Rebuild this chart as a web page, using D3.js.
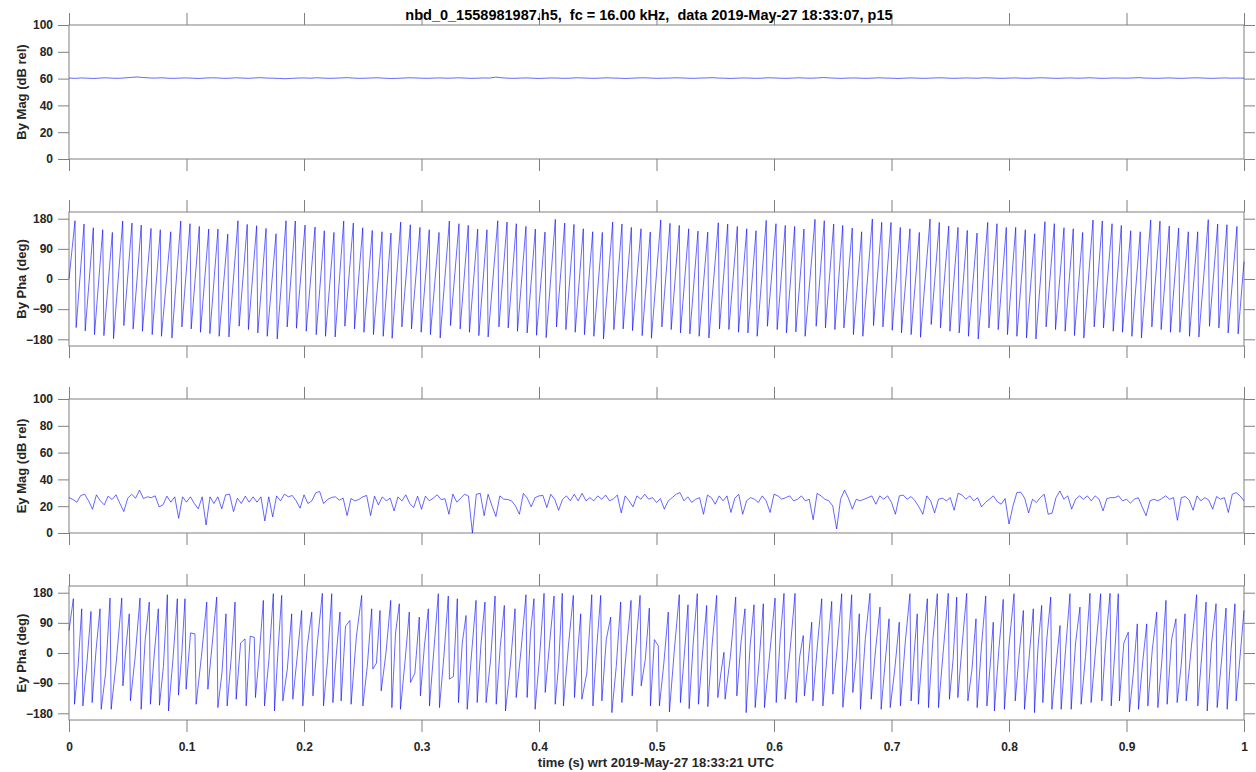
<!DOCTYPE html>
<html>
<head>
<meta charset="utf-8">
<script src="https://cdn.jsdelivr.net/npm/d3@7"></script>
<style>
  body { margin: 0; background: #fff; }
  svg { display: block; }
  .tick line { stroke: #808080; }
  .tick text { font: bold 12px "Liberation Sans", Arial, sans-serif; fill: #262626; }
  .lbl { font: bold 13px "Liberation Sans", Arial, sans-serif; fill: #262626; white-space: pre; }
  .ttl { font: bold 14.5px "Liberation Sans", Arial, sans-serif; fill: #000; white-space: pre; }
</style>
</head>
<body>
<div id="chart"></div>
<script>
// ---- data ----
var titleText = "nbd_0_1558981987.h5,  fc = 16.00 kHz,  data 2019-May-27 18:33:07, p15";
var xLabelText = "time (s) wrt 2019-May-27 18:33:21 UTC";
var panelLabels = ["By Mag (dB rel)", "By Pha (deg)", "Ey Mag (dB rel)", "Ey Pha (deg)"];

var timeTicks = [0, 0.1, 0.2, 0.3, 0.4, 0.5, 0.6, 0.7, 0.8, 0.9, 1];
var magTicks = [0, 20, 40, 60, 80, 100];
var phaTicks = [-180, -90, 0, 90, 180];
var magDomain = [0, 100];
var phaDomain = [-200, 200];

var sampleDt = 0.001; // 1 kHz sampling: a phase wrap takes one sample

// By Mag, evenly spaced over 0..1 s
var byMag = [
  60.4,60.2,60.5,60.3,60.1,60.4,60.6,60.3,60.2,60.5, 60.9,61.2,60.8,60.5,60.4,60.6,60.3,60.2,60.4,60.5,
  60.3,60.1,60.4,60.6,60.5,60.2,60.3,60.6,60.4,60.2, 60.5,60.7,60.4,60.3,60.1,59.9,60.2,60.4,60.5,60.3,
  60.6,60.4,60.2,60.3,60.5,60.7,60.4,60.2,60.3,60.5, 60.6,60.3,60.1,60.2,60.4,60.6,60.5,60.3,60.2,60.4,
  60.5,60.3,60.4,60.6,60.4,60.2,60.3,60.5,60.4,61.1, 60.6,60.3,60.2,60.4,60.5,60.3,60.1,60.3,60.5,60.4,
  60.2,60.3,60.6,60.5,60.3,60.2,60.4,60.6,60.4,60.3, 60.1,60.3,60.5,60.6,60.4,60.2,60.3,60.4,60.6,60.5,
  60.3,60.2,60.4,60.5,60.7,60.4,60.3,60.1,60.3,60.5, 60.4,60.2,60.3,60.6,60.5,60.3,60.2,60.4,60.6,60.4,
  60.3,60.5,60.8,60.5,60.3,60.2,60.4,60.5,60.3,60.2, 60.4,60.6,60.4,60.3,60.1,60.3,60.5,60.4,60.2,60.3,
  60.5,60.6,60.4,60.2,60.3,60.5,60.4,60.3,60.6,60.5, 60.3,60.2,60.4,60.5,60.3,60.2,60.4,60.6,60.5,60.3,
  60.2,60.4,60.5,60.3,60.4,60.6,60.4,60.2,60.3,60.5, 60.4,60.3,60.5,60.7,60.4,60.3,60.2,60.4,60.5,60.3,
  60.2,60.4,60.6,60.5,60.3,60.2,60.4,60.5,60.3,60.4, 60.3
];

// By Pha: sawtooth, one peak and the wrapped trough after it per cycle
var byPhaStart = 0, byPhaEnd = 52;
var byPhaPeakT = [
  0.0051,0.0128,0.0207,0.0287,0.0369,0.0457,0.0536,0.0615,0.0698,0.0777,0.0866,0.0951,0.1030,0.1109,0.1189,0.1268,0.1351,
  0.1438,0.1517,0.1597,0.1677,0.1762,0.1847,0.1926,0.2009,0.2094,0.2173,0.2255,0.2338,0.2420,0.2500,0.2581,0.2664,0.2740,
  0.2823,0.2905,0.2987,0.3066,0.3149,0.3237,
  0.3319,0.3398,0.3478,0.3557,0.3649,0.3728,0.3807,0.3889,0.3969,0.4051,0.4139,0.4219,0.4298,0.4377,0.4457,0.4539,
  0.4627,0.4706,0.4786,0.4868,0.4947,0.5036,0.5115,0.5194,0.5274,0.5353,0.5436,0.5526,0.5606,0.5688,0.5768,0.5847,
  0.5934,0.6017,0.6096,0.6176,0.6255,0.6349,0.6428,0.6508,0.6585,
  0.6666,0.6746,0.6837,0.6917,0.6996,0.7075,0.7157,0.7237,0.7328,0.7407,0.7487,0.7566,0.7645,0.7728,0.7819,0.7898,
  0.7977,0.8057,0.8139,0.8219,0.8306,0.8386,0.8468,0.8547,0.8627,0.8715,0.8794,0.8877,0.8956,0.9036,0.9117,0.9206,
  0.9285,0.9364,0.9444,0.9526,0.9606,0.9696,0.9776,0.9855,0.9940
];
var byPhaPeak = [
  174,164,153,147,139, 173,167,161,151,147,141, 173,165,157,149,149,134, 174,163,159,151,135,
  174,173,161,155,144,139, 173,167,153,145,141,137, 170,162,154,147,139, 173,
  165,160,149,147, 174,170,165,157,149,140, 178,167,163,150,141,139, 170,164,154,150,140,
  176,166,160,150,143,140, 168,164,157,150,144, 175,165,160,157,149, 178,174,164,160,
  152,141, 179,169,169,154,150,139, 179,169,158,154,145,137, 169,165,154,154,147,135,
  171,165,153,150,139, 176,173,165,160,144,141, 176,173,158,152,141,141, 177,164,162,157
];
var byPhaTrough = [
  -145,-155,-166,-169,-178, -139,-149,-156,-166,-171,-176, -143,-149,-159,-163,-171,-173, -141,-151,-161,-171,-179,
  -143,-147,-156,-166,-171,-173, -141,-149,-159,-166,-171,-177, -143,-149,-159,-166,-176, -139,
  -149,-159,-169,-173, -143,-146,-156,-161,-168,-175, -143,-151,-159,-166,-171,-179, -151,-149,-154,-169,-177,
  -143,-151,-161,-164,-171,-176, -149,-151,-159,-161,-171, -141,-151,-161,-158,-171, -141,-146,-151,-146,
  -166,-171, -139,-143,-153,-161,-166,-174, -136,-146,-156,-161,-171,-179, -146,-151,-166,-171,-176,-179,
  -143,-151,-156,-169,-176, -143,-146,-156,-159,-171,-176, -143,-151,-159,-159,-171,-173, -141,-146,-161,-164
];

// Ey Mag, evenly spaced over 0..1 s
var eyMag = [
  26.4,25,23,28,28.9,24,17.7,28.5,24,21, 27.5,25,28.5,22,16,26,28.9,26,32,25.7,
  27,26.4,27.7,19.5,21,27.5,23,27,11,27, 23,27,22,18,27,6,27,22,27,18,
  28.5,28.9,16,26,22,27.5,23,27,23,27, 9,27,12,27.7,24,29,27,28,24,18.5,
  28.5,22,24,30,31,22,25,26.5,27,24.5, 26,13,25.7,24,25,27,28,13,27.5,21,
  27,24,26,16.5,27,24,28.5,22,19,27.5, 17.7,27.5,24,26,28.5,25,25.5,14,29,23,
  26,28.9,27.5,0,28.9,29.6,12.9,28.9,20.2,12.3, 27.7,25.2,25,24,20.2,14,29.6,26,19.5,26.4,
  27.7,28,19,28.9,25.2,17,25,27.7,24,28.9, 24,29.6,24,26.4,24,27.7,25.2,28.3,24,25.5,
  28.3,15,27.7,24,19.5,27.7,25.2,28.9,25.2,26.4, 22.8,25.7,17.8,24,26.4,28.9,30.1,24,27,22.8,
  25.2,26.4,14,28.3,26.4,21.5,27.7,24,27.7,15.3, 26,28.9,14,24,26.4,25.2,22.8,27.7,24,15.3,
  28.9,27.7,25.2,26.4,27.7,24,25.2,27.7,24,25.2, 9.9,29.6,27.7,25.2,24,20.2,3,25.2,32,26,
  17.8,25.2,24,25.2,26.4,27.7,21.5,27.7,25.2,27.7, 22.8,14,27.7,28.3,25.2,27.2,24,19.5,14,27.7,
  24,15,25.2,26,24,26.4,17,29.6,28.3,25.2, 27.7,24,26.4,19.5,22.8,25.2,27.7,23.4,21.5,25.7,
  6.7,20,30.1,30.5,26,15,25.2,22.8,26.4,28.9, 14,14.8,26.4,31.4,25.2,27.7,17.8,25.2,27.7,25.2,
  27.7,24,27.7,25.2,16.5,25.7,26.4,26.4,27.7,24, 25.2,22.3,25.2,26.4,19.5,12.9,24,25.2,24,25.7,
  27.7,25.2,26.4,9.5,26.4,27.2,24.6,17,27.7,24, 26.4,24.6,17.8,27.2,25.2,26.4,15.3,28.9,30.1,27.7,
  24
];

// Ey Pha: per cycle a peak, the trough after it and one value midway up the next rise
var eyPhaStart = 67, eyPhaEnd = 127;
var eyPhaPeakT = [
  0.0037,0.0108,0.0187,0.0264,0.0349,0.0449,0.0513,0.0604,0.0683,0.0760,0.0837,0.0922,0.0987,0.1072,0.1172,0.1257,
  0.1336,0.1413,0.1498,0.1577,0.1654,0.1739,0.1810,0.1895,0.1980,0.2066,0.2156,0.2236,0.2306,0.2391,0.2491,0.2576,
  0.2647,0.2738,0.2811,0.2896,0.2981,0.3058,0.3143,0.3228,0.3305,
  0.3379,0.3464,0.3540,0.3626,0.3705,0.3796,0.3889,0.3957,0.4043,0.4128,0.4198,0.4292,0.4355,0.4449,0.4525,0.4610,
  0.4695,0.4783,0.4860,0.4939,0.5015,0.5100,0.5194,0.5268,0.5347,0.5427,0.5512,0.5574,0.5674,0.5753,0.5830,0.5909,
  0.6009,0.6085,0.6179,0.6249,0.6321,0.6406,0.6491,0.6576,
  0.6661,0.6726,0.6817,0.6902,0.6979,0.7066,0.7157,0.7219,0.7305,0.7390,0.7483,0.7555,0.7640,0.7719,0.7802,0.7866,
  0.7951,0.8043,0.8122,0.8207,0.8278,0.8355,0.8434,0.8519,0.8604,0.8689,0.8780,0.8860,0.8930,0.9015,0.9092,0.9172,
  0.9257,0.9336,0.9421,0.9498,0.9597,0.9677,0.9762,0.9847,0.9923
];
var eyPhaPeak = [
  162,132,124,132,164,164,117,164,152,132,174,162,162,57,152,167,117,152,42,47,157,177,172,117,127,122,178,177,122,97,
  172,132,127,157,147,122,107,132,177,170,162,
  112,157,152,170,142,132,174,162,178,170,178,172,117,174,172,107,152,157,172,134,22,122,174,144,177,142,172,2,167,132,
  144,147,164,178,178,52,92,162,154,177,
  174,117,178,137,102,92,177,117,162,177,178,167,178,102,170,92,160,177,127,132,142,167,82,177,137,178,177,178,177,62,
  87,87,122,157,102,117,174,152,147,134,147
];
var eyPhaTrough = [
  -153,-158,-148,-168,-168,-98,-143,-168,-153,-156,-173,-126,-108,-153,-108,-163,-158,-138,-158,-133,-158,-173,-143,-138,
  -158,-128,-158,-148,-143,-153,-158,-48,-113,-163,-168,-88,-128,-158,-163,-78,-148,
  -168,-148,-148,-153,-173,-133,-133,-168,-118,-153,-158,-133,-138,-158,-143,-178,-148,-128,-98,-158,-158,-176,-148,-166,
  -153,-160,-133,-138,-128,-178,-163,-163,-148,-138,-148,-128,-143,-158,-123,-162,
  -118,-168,-138,-168,-163,-158,-143,-153,-163,-163,-138,-133,-143,-163,-158,-173,-168,-143,-168,-178,-148,-168,-168,-168,
  -153,-148,-143,-158,-143,-176,-168,-158,-163,-153,-148,-143,-158,-173,-163,-168,-143
];
var eyPhaMid = [
  -40,-30,10,-60,-20,20,-10,40,0,-40,-20,-5,60,-10,30,-60,-20,30,50,0,-20,10,-50,-10,20,40,-20,0,80,50,-40,-30,0,60,-30,
  -60,20,10,-10,-70,30,
  0,30,-20,20,-40,10,60,-10,30,-30,20,0,-60,20,40,-40,10,30,-20,40,-30,10,-10,30,0,30,-60,-10,30,20,-20,0,40,10,-10,-30,
  20,0,20,-20,
  -20,40,10,-30,-50,30,0,20,40,10,-20,30,-50,20,-40,10,30,0,-20,20,40,-40,10,30,-10,20,40,0,30,-60,-30,10,-20,40,-40,
  20,0,30,-20,10,-10
];

// ---- build point lists ----
function evenly(vals) {
  return vals.map(function(v, i) { return {t: i / (vals.length - 1), v: v}; });
}
function sawtooth(start, peakT, peak, trough, mid, end) {
  var pts = [{t: 0, v: start}];
  peakT.forEach(function(t, i) {
    if (mid && i > 0) pts.push({t: (peakT[i-1] + sampleDt + t) / 2, v: mid[i-1]});
    pts.push({t: t, v: peak[i]});
    pts.push({t: t + sampleDt, v: trough[i]});
  });
  var last = peakT[peakT.length-1] + sampleDt;
  if (mid) pts.push({t: (last + 1) / 2, v: mid[mid.length-1]});
  pts.push({t: 1, v: end});
  return pts;
}

var panels = [
  {label: panelLabels[0], domain: magDomain, ticks: magTicks, pts: evenly(byMag)},
  {label: panelLabels[1], domain: phaDomain, ticks: phaTicks,
   pts: sawtooth(byPhaStart, byPhaPeakT, byPhaPeak, byPhaTrough, null, byPhaEnd)},
  {label: panelLabels[2], domain: magDomain, ticks: magTicks, pts: evenly(eyMag)},
  {label: panelLabels[3], domain: phaDomain, ticks: phaTicks,
   pts: sawtooth(eyPhaStart, eyPhaPeakT, eyPhaPeak, eyPhaTrough, eyPhaMid, eyPhaEnd)}
];

// ---- layout ----
var width = 1256, height = 772;
var left = 69, right = 1244;
var panelTop = [25, 212, 399, 586], panelH = 134;

var svg = d3.select("#chart").append("svg")
    .attr("width", width)
    .attr("height", height);

var x = d3.scaleLinear().domain([0, 1]).range([left, right]);

panels.forEach(function(p, i) {
  var top = panelTop[i], bottom = top + panelH;
  var y = d3.scaleLinear().domain(p.domain).range([bottom, top]);
  var g = svg.append("g");

  g.append("rect")
      .attr("x", left).attr("y", top)
      .attr("width", right - left).attr("height", panelH)
      .attr("fill", "none").attr("stroke", "#808080").attr("stroke-width", 1);

  var line = d3.line()
      .x(function(d) { return x(d.t); })
      .y(function(d) { return y(d.v); });

  g.append("path")
      .datum(p.pts)
      .attr("fill", "none")
      .attr("stroke", "#0000ff")
      .attr("stroke-width", 0.6)
      .attr("d", line);

  g.append("g").attr("transform", "translate(" + left + ",0)")
      .call(d3.axisLeft(y).tickValues(p.ticks).tickSize(11).tickSizeOuter(0).tickPadding(5)
            .tickFormat(d3.format("d")));
  g.append("g").attr("transform", "translate(" + right + ",0)")
      .call(d3.axisRight(y).tickValues(p.ticks).tickSize(11).tickSizeOuter(0).tickFormat(""));
  g.append("g").attr("transform", "translate(0," + top + ")")
      .call(d3.axisTop(x).tickValues(timeTicks).tickSize(12).tickSizeOuter(0).tickFormat(""));
  var xb = d3.axisBottom(x).tickValues(timeTicks).tickSize(12).tickSizeOuter(0).tickPadding(10);
  if (i < panels.length - 1) xb.tickFormat("");
  else xb.tickFormat(d3.format("~g"));
  g.append("g").attr("transform", "translate(0," + bottom + ")").call(xb);

  g.append("text")
      .attr("class", "lbl")
      .attr("transform", "translate(26," + (top + panelH / 2) + ") rotate(-90)")
      .attr("text-anchor", "middle")
      .text(p.label);
});

svg.selectAll(".domain").remove();

svg.append("text")
    .attr("class", "ttl")
    .attr("x", 649).attr("y", 20)
    .attr("text-anchor", "middle")
    .text(titleText);

svg.append("text")
    .attr("class", "lbl")
    .attr("x", 656).attr("y", 767)
    .attr("text-anchor", "middle")
    .text(xLabelText);
</script>
</body>
</html>
